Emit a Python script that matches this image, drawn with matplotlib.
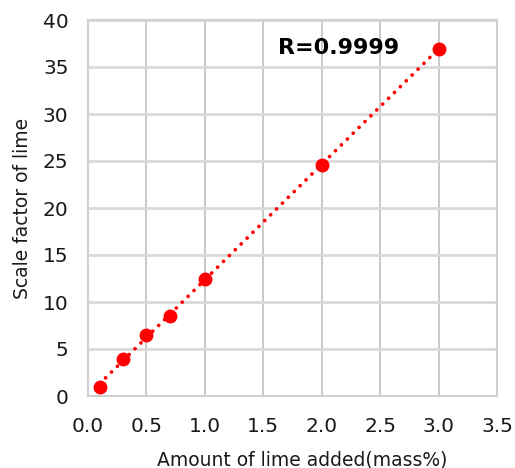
import numpy as np
import matplotlib.pyplot as plt

# data
lime_added = [0.1, 0.3, 0.5, 0.7, 1.0, 2.0, 3.0]
scale_factor = [1.0, 3.9, 6.5, 8.5, 12.5, 24.6, 36.9]
r_label = "R=0.9999"

x = np.array(lime_added)
y = np.array(scale_factor)
slope, intercept = np.polyfit(x, y, 1)
xf = np.array([x.min(), x.max()])

fig = plt.figure(figsize=(5.15, 4.68), dpi=100)
ax = fig.add_axes([88 / 515, 72 / 468, 409 / 515, 376 / 468])

# dotted linear trendline
ax.plot(xf, slope * xf + intercept, color='red', linestyle=(0, (0.01, 2.2)),
        linewidth=2.7, dash_capstyle='round', zorder=3)
ax.plot(x, y, 'o', color='red', markersize=9, zorder=4)

ax.set_xlim(0, 3.5)
ax.set_ylim(0, 40)
ax.set_xticks(np.arange(0, 3.51, 0.5))
ax.set_yticks(np.arange(0, 41, 5))
ax.set_xticklabels([f"{v:.1f}" for v in np.arange(0, 3.51, 0.5)])

ax.grid(axis='x', color='#c0c0c0', linewidth=1.2)
ax.grid(axis='y', color='#d9d9d9', linewidth=2)
ax.set_axisbelow(True)
for s in ax.spines.values():
    s.set_color('#d0d0d0')
    s.set_linewidth(1.5)
ax.tick_params(length=0, labelsize=14.5, colors='#1a1a1a')
ax.tick_params(axis='y', pad=14)
ax.tick_params(axis='x', pad=15)

ax.set_xlabel('Amount of lime added(mass%)', fontsize=13.5, color='#1a1a1a')
ax.set_ylabel('Scale factor of lime', fontsize=13.5, color='#1a1a1a', labelpad=8)
ax.xaxis.set_label_coords(0.523, -0.145)

ax.text(1.63, 37.0, r_label, fontsize=16, fontweight='bold', va='center', ha='left')

fig.savefig('out.png', dpi=100)
